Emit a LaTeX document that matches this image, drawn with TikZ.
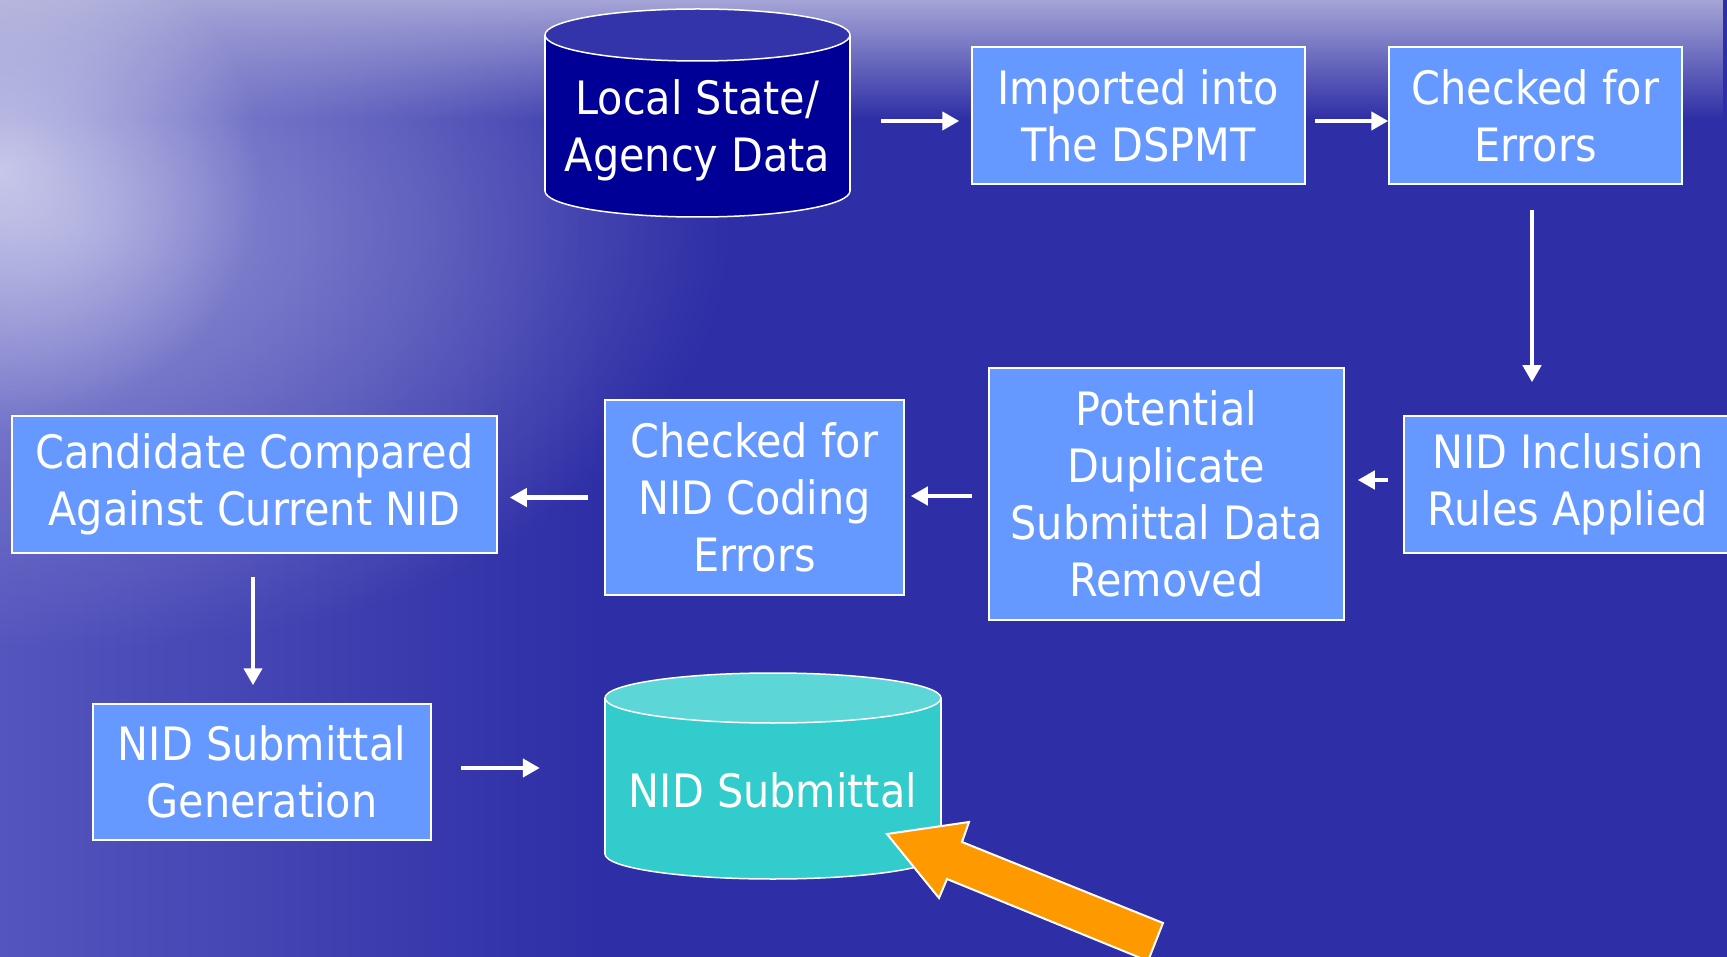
\documentclass[tikz,border=0pt]{standalone}
\usepackage{fontspec}
\setmainfont{DejaVu Sans Condensed}
\usetikzlibrary{arrows.meta,fadings}
\definecolor{bgA}{RGB}{46,46,166}
\definecolor{bgL}{RGB}{85,85,190}
\definecolor{bgTop}{RGB}{165,165,215}
\definecolor{bgGlow}{RGB}{150,150,215}
\definecolor{boxblue}{RGB}{102,153,255}
\definecolor{navybody}{RGB}{0,0,150}
\definecolor{navytop}{RGB}{51,51,170}
\definecolor{tealbody}{RGB}{51,204,204}
\definecolor{tealtop}{RGB}{92,214,214}
\definecolor{arrorange}{RGB}{255,153,0}
\tikzfading[name=fadedown, top color=transparent!0, bottom color=transparent!100]
\tikzfading[name=glowfade, inner color=transparent!0, outer color=transparent!100]
\begin{document}
\begin{tikzpicture}[x=1pt,y=-1pt,
  txt/.style={text=white, align=center, inner sep=0pt, font=\fontsize{46}{57}\selectfont},
  box/.style={txt, draw=white, line width=1.5pt, fill=boxblue},
  cyl/.style={draw=white, line width=1.5pt},
  arr/.style={draw=white, line width=4.5pt, -{Triangle[length=17pt,width=18pt]}}]
\useasboundingbox (0,0) rectangle (1727,957);
% background
\fill[bgA] (0,0) rectangle (1727,957);
\shade[left color=bgL, right color=bgA] (0,0) rectangle (600,957);
\fill[bgGlow, opacity=0.9, path fading=glowfade] (80,230) ellipse [x radius=650, y radius=420];
\fill[bgTop, path fading=fadedown] (0,0) rectangle (1727,120);
\fill[white, opacity=0.55, path fading=glowfade] (0,170) ellipse [x radius=260, y radius=260];
% cylinder 1
\fill[navybody, cyl] (697.5,191) ellipse [x radius=152.5, y radius=26];
\fill[navybody] (545,35) rectangle (850,191);
\draw[cyl] (545,35) -- (545,191) (850,35) -- (850,191);
\fill[navytop, cyl] (697.5,35) ellipse [x radius=152.5, y radius=26];
\node[txt, minimum width=305pt, minimum height=178pt] (local) at (697.5,130) {Local State/\\Agency Data};
% cylinder 2
\fill[tealbody, cyl] (773,854) ellipse [x radius=168, y radius=25];
\fill[tealbody] (605,698) rectangle (941,854);
\draw[cyl] (605,698) -- (605,854) (941,698) -- (941,854);
\fill[tealtop, cyl] (773,698) ellipse [x radius=168, y radius=25];
\node[txt, minimum width=336pt, minimum height=178pt] (sub) at (773,790) {NID Submittal};
% boxes
\node[box, minimum width=333pt, minimum height=137pt] (imp) at (1138.5,115.5) {Imported into\\The DSPMT};
\node[box, minimum width=293pt, minimum height=137pt] (chk1) at (1535.5,115.5) {Checked for\\Errors};
\node[box, minimum width=328pt, minimum height=137pt] (incl) at (1568,484.5) {NID Inclusion\\Rules Applied};
\node[box, minimum width=355pt, minimum height=252pt] (pot) at (1166.5,494) {Potential\\Duplicate\\Submittal Data\\Removed};
\node[box, minimum width=299pt, minimum height=195pt] (cnc) at (754.5,497.5) {Checked for\\NID Coding\\Errors};
\node[box, minimum width=485pt, minimum height=137pt] (cand) at (254.5,484.5) {Candidate Compared\\Against Current NID};
\node[box, minimum width=338pt, minimum height=136pt] (gen) at (262,772) {NID Submittal\\Generation};
% connectors
\draw[arr, shorten <=31pt, shorten >=12pt] ([yshift=-5.5pt]imp.west -| local.east) -- ([yshift=-5.5pt]imp.west);
\draw[arr, shorten <=9pt, shorten >=0pt] ([yshift=-5.5pt]imp.east) -- ([yshift=-5.5pt]chk1.west);
\draw[arr, shorten <=25pt, shorten >=33pt] ([xshift=-3.5pt]chk1.south) -- ([xshift=-3.5pt]chk1.south |- incl.north);
\draw[arr, shorten <=15pt, shorten >=13pt] ([yshift=4.5pt]incl.west) -- ([yshift=4.5pt]incl.west -| pot.east);
\draw[arr, shorten <=16pt, shorten >=6pt] ([yshift=-2pt]pot.west) -- ([yshift=-2pt]pot.west -| cnc.east);
\draw[arr, shorten <=16pt, shorten >=12pt] (cnc.west) -- (cnc.west -| cand.east);
\draw[arr, shorten <=23pt, shorten >=18pt] ([xshift=-1.5pt]cand.south) -- ([xshift=-1.5pt]cand.south |- gen.north);
\draw[arr, shorten <=29pt, shorten >=65pt] ([yshift=4pt]gen.east) -- ([yshift=4pt]gen.east -| sub.west);
% orange pointer
\filldraw[fill=arrorange, draw=white, line width=2pt, line join=miter]
  (887,834) -- (969,822) -- (962,842) -- (1163,923) -- (1148,961) -- (947,879) -- (939,898) -- cycle;
\end{tikzpicture}
\end{document}
